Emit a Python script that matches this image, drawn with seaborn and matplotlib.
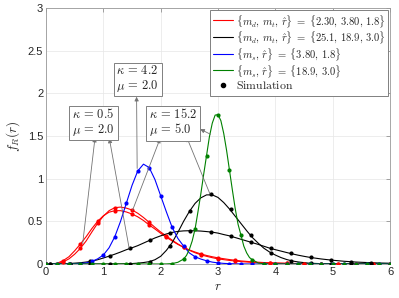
import matplotlib
matplotlib.use("Agg")
import matplotlib.pyplot as plt
import seaborn as sns
from matplotlib.lines import Line2D

# Curve values
blue_x = [0.0, 0.4, 0.5, 0.6, 0.7, 0.8, 0.9, 1.0, 1.1, 1.2, 1.3, 1.4, 1.5, 1.6, 1.7, 1.8, 1.9,
          2.0, 2.1, 2.2, 2.3, 2.4, 2.5, 2.6, 2.7, 2.8, 2.9, 3.0, 3.1, 3.2, 3.4, 3.6, 4.0, 6.0]
blue_y = [0, 0.0005, 0.002, 0.005, 0.013, 0.03, 0.06, 0.105, 0.19, 0.32, 0.50, 0.71, 0.92, 1.09,
          1.17, 1.13, 0.99, 0.80, 0.61, 0.43, 0.30, 0.21, 0.13, 0.085, 0.058, 0.038, 0.022, 0.013,
          0.007, 0.004, 0.001, 0, 0, 0]

red_x = [0.0, 0.1, 0.2, 0.3, 0.4, 0.5, 0.6, 0.7, 0.8, 0.9, 1.0, 1.1, 1.2, 1.3, 1.4, 1.5, 1.6, 1.7,
         1.8, 1.9, 2.0, 2.1, 2.2, 2.3, 2.4, 2.5, 2.6, 2.7, 2.8, 2.9, 3.0, 3.2, 3.4, 3.6, 3.8, 4.0,
         4.3, 4.6, 5.0, 5.5, 6.0]
red_a_y = [0, 0.001, 0.01, 0.04, 0.085, 0.155, 0.234, 0.32, 0.415, 0.50, 0.565, 0.607, 0.625,
           0.625, 0.61, 0.586, 0.553, 0.51, 0.457, 0.41, 0.36, 0.313, 0.27, 0.23, 0.195, 0.165,
           0.14, 0.118, 0.10, 0.085, 0.072, 0.052, 0.036, 0.025, 0.017, 0.012, 0.007, 0.004,
           0.002, 0.001, 0]
red_b_y = [0, 0.0, 0.005, 0.025, 0.06, 0.115, 0.184, 0.27, 0.375, 0.477, 0.56, 0.625, 0.66,
           0.667, 0.655, 0.633, 0.595, 0.545, 0.488, 0.43, 0.375, 0.328, 0.28, 0.235, 0.195,
           0.16, 0.132, 0.108, 0.09, 0.074, 0.06, 0.042, 0.028, 0.019, 0.013, 0.009, 0.005,
           0.003, 0.001, 0.0, 0]

blk_x = [0.0, 0.3, 0.5, 0.6, 0.7, 0.8, 0.9, 1.0, 1.1, 1.2, 1.3, 1.4, 1.5, 1.6, 1.7, 1.8, 1.9,
         2.0, 2.1, 2.2, 2.3, 2.4, 2.5, 2.6, 2.7, 2.8, 2.9, 3.0, 3.1, 3.2, 3.3, 3.4, 3.5, 3.6,
         3.7, 3.8, 3.9, 4.0, 4.1, 4.2, 4.3, 4.4, 4.5, 4.6, 4.8, 5.0, 5.2, 5.4, 5.6, 5.8, 6.0]
blk_peak_y = [0, 0, 0, 0, 0, 0, 0, 0, 0, 0.0, 0.001, 0.003, 0.005, 0.01, 0.017, 0.027, 0.05,
              0.09, 0.16, 0.25, 0.37, 0.50, 0.615, 0.71, 0.775, 0.81, 0.81, 0.78, 0.72, 0.645,
              0.56, 0.475, 0.39, 0.31, 0.245, 0.185, 0.14, 0.105, 0.075, 0.052, 0.035, 0.024,
              0.016, 0.009, 0.004, 0.002, 0.001, 0, 0, 0, 0]
blk_broad_y = [0, 0.001, 0.01, 0.015, 0.023, 0.033, 0.05, 0.07, 0.092, 0.115, 0.14, 0.167,
               0.19, 0.215, 0.245, 0.275, 0.305, 0.33, 0.352, 0.37, 0.382, 0.388, 0.39, 0.389,
               0.386, 0.38, 0.373, 0.362, 0.345, 0.33, 0.31, 0.29, 0.27, 0.25, 0.23, 0.208,
               0.186, 0.168, 0.151, 0.134, 0.118, 0.103, 0.09, 0.078, 0.059, 0.044, 0.032,
               0.023, 0.017, 0.012, 0.009]

green_x = [0.0, 2.0, 2.1, 2.2, 2.3, 2.4, 2.45, 2.5, 2.55, 2.6, 2.65, 2.7, 2.75, 2.8, 2.85, 2.9,
           2.95, 3.0, 3.05, 3.1, 3.15, 3.2, 3.25, 3.3, 3.35, 3.4, 3.45, 3.5, 3.55, 3.6, 3.7,
           3.8, 3.9, 4.0, 6.0]
green_y = [0, 0, 0.001, 0.005, 0.02, 0.058, 0.1, 0.17, 0.27, 0.41, 0.61, 0.82, 1.05, 1.27,
           1.49, 1.65, 1.745, 1.75, 1.68, 1.53, 1.33, 1.10, 0.87, 0.65, 0.465, 0.34, 0.21,
           0.13, 0.075, 0.05, 0.012, 0.003, 0.0005, 0, 0]

# Simulation points
sim02_x = [round(0.2 * k, 1) for k in range(31)]
blue_sim = [0, 0, 0, 0.005, 0.03, 0.105, 0.32, 0.71, 1.09, 1.13, 0.80, 0.43, 0.21, 0.085,
            0.038, 0.013, 0.004, 0.001, 0, 0, 0, 0, 0, 0, 0, 0, 0, 0, 0, 0, 0]
green_sim = [0, 0, 0, 0, 0, 0, 0, 0, 0, 0, 0, 0.004, 0.058, 0.41, 1.27, 1.75, 1.10, 0.34,
             0.05, 0.003, 0, 0, 0, 0, 0, 0, 0, 0, 0, 0, 0]
sim03_x = [round(0.3 * k, 1) for k in range(21)]
red_a_sim = [0, 0.04, 0.234, 0.50, 0.625, 0.586, 0.457, 0.313, 0.195, 0.118, 0.072, 0.044,
             0.025, 0.015, 0.008, 0.005, 0.003, 0.002, 0.001, 0, 0]
red_b_sim = [0, 0.025, 0.184, 0.477, 0.66, 0.633, 0.488, 0.328, 0.195, 0.108, 0.06, 0.035,
             0.019, 0.011, 0.006, 0.004, 0.002, 0.001, 0.001, 0, 0]
sim035_x = [0.07, 0.42, 0.77, 1.12, 1.47, 1.82, 2.17, 2.52, 2.87, 3.22, 3.57, 3.92, 4.27,
            4.62, 4.97, 5.32, 5.67]
blk_peak_sim = [0, 0, 0, 0, 0.003, 0.028, 0.215, 0.625, 0.815, 0.64, 0.335, 0.133, 0.04,
                0.009, 0.002, 0, 0]
blk_broad_sim = [0, 0.005, 0.03, 0.094, 0.184, 0.28, 0.367, 0.39, 0.379, 0.328, 0.26, 0.184,
                 0.125, 0.078, 0.047, 0.027, 0.016]

legend_labels = [r"$\{m_d,\, m_t,\, \hat{r}\} \;=\; \{2.30,\, 3.80,\, 1.8\}$",
                 r"$\{m_d,\, m_t,\, \hat{r}\} \;=\; \{25.1,\, 18.9,\, 3.0\}$",
                 r"$\{m_s,\, \hat{r}\} \;=\; \{3.80,\, 1.8\}$",
                 r"$\{m_s,\, \hat{r}\} \;=\; \{18.9,\, 3.0\}$",
                 r"$\mathrm{Simulation}$"]

# annotation boxes: text, centre, arrows (curve point -> box point)
boxes = [
    (r"$\kappa \,=\, 0.5$" + "\n" + r"$\mu \,=\, 2.0$", (0.83, 1.66),
     [((0.64, 0.24), (0.855, 1.48)), ((1.45, 0.185), (1.105, 1.47))]),
    (r"$\kappa \,=\, 4.2$" + "\n" + r"$\mu \,=\, 2.0$", (1.60, 2.17),
     [((1.59, 1.12), (1.58, 1.96))]),
    (r"$\kappa \,=\, 15.2$" + "\n" + r"$\mu \,=\, 5.0$", (2.22, 1.66),
     [((1.51, 0.63), (1.99, 1.47)), ((2.86, 0.82), (2.455, 1.485)), ((2.87, 1.52), (2.69, 1.58))]),
]

x_ticks = [0, 1, 2, 3, 4, 5, 6]
y_ticks = [0, 0.5, 1, 1.5, 2, 2.5, 3]
y_tick_labels = ["0", "0.5", "1", "1.5", "2", "2.5", "3"]

sns.set_theme(style="whitegrid")
plt.rcParams['font.family'] = ['Liberation Sans', 'DejaVu Sans']
plt.rcParams['mathtext.fontset'] = 'cm'

fig = plt.figure(figsize=(3.99, 2.98), dpi=100)
ax = fig.add_axes([46 / 399, 34 / 298, 344 / 399, 256 / 298])

lw = 0.8
red, blue, green, black = "#ff0000", "#0000ff", "#008000", "#000000"

sns.lineplot(x=red_x, y=red_a_y, color=red, linewidth=lw, ax=ax)
sns.lineplot(x=red_x, y=red_b_y, color=red, linewidth=lw, ax=ax)
sns.lineplot(x=blk_x, y=blk_peak_y, color=black, linewidth=lw, ax=ax)
sns.lineplot(x=blk_x, y=blk_broad_y, color=black, linewidth=lw, ax=ax)
sns.lineplot(x=blue_x, y=blue_y, color=blue, linewidth=lw, ax=ax)
sns.lineplot(x=green_x, y=green_y, color=green, linewidth=lw, ax=ax)

ms = 9
sns.scatterplot(x=sim03_x, y=red_a_sim, color=red, s=ms, linewidth=0, ax=ax, zorder=3)
sns.scatterplot(x=sim03_x, y=red_b_sim, color=red, s=ms, linewidth=0, ax=ax, zorder=3)
sns.scatterplot(x=sim035_x, y=blk_peak_sim, color=black, s=ms, linewidth=0, ax=ax, zorder=3)
sns.scatterplot(x=sim035_x, y=blk_broad_sim, color=black, s=ms, linewidth=0, ax=ax, zorder=3)
sns.scatterplot(x=sim02_x, y=blue_sim, color=blue, s=ms, linewidth=0, ax=ax, zorder=3)
sns.scatterplot(x=sim02_x, y=green_sim, color=green, s=ms, linewidth=0, ax=ax, zorder=3)

for text, centre, arrows in boxes:
    for start, end in arrows:
        ax.annotate("", xy=end, xytext=start,
                    arrowprops=dict(arrowstyle="-|>", color="0.45", lw=0.6,
                                    mutation_scale=6, shrinkA=0, shrinkB=0), zorder=4)
    ax.text(centre[0], centre[1], text, ha="center", va="center", fontsize=9,
            multialignment="left", linespacing=1.05, zorder=5,
            bbox=dict(boxstyle="square,pad=0.22", fc="white", ec="0.5", lw=0.7))

handles = [Line2D([], [], color=red, lw=lw), Line2D([], [], color=black, lw=lw),
           Line2D([], [], color=blue, lw=lw), Line2D([], [], color=green, lw=lw),
           Line2D([], [], ls="none", marker="o", color=black, ms=3)]
leg = ax.legend(handles, legend_labels, loc="upper right", fontsize=7.6, frameon=True,
                fancybox=False, edgecolor="0.5", framealpha=1, borderpad=0.3,
                labelspacing=0.0, handleheight=1.4, handlelength=1.9, handletextpad=0.2,
                borderaxespad=0.15)
leg.get_frame().set_linewidth(0.7)
leg.get_texts()[-1].set_fontsize(8.5)

ax.set_xlim(0, 6)
ax.set_ylim(0, 3)
ax.set_xticks(x_ticks)
ax.set_xticklabels([str(t) for t in x_ticks])
ax.set_yticks(y_ticks)
ax.set_yticklabels(y_tick_labels)
ax.set_xlabel(r"$r$", fontsize=9.5, labelpad=3)
ax.set_ylabel(r"$f_R(r)$", fontsize=9.5, labelpad=4)

ax.grid(True, color="#e6e6e6", linewidth=0.5)
for s in ax.spines.values():
    s.set_color("0.6")
    s.set_linewidth(0.6)
ax.tick_params(direction="in", length=3, width=0.5, color="0.5", top=True, right=True,
               labelsize=8, labelcolor="#262626", pad=2)

fig.savefig("out.png", dpi=100)
